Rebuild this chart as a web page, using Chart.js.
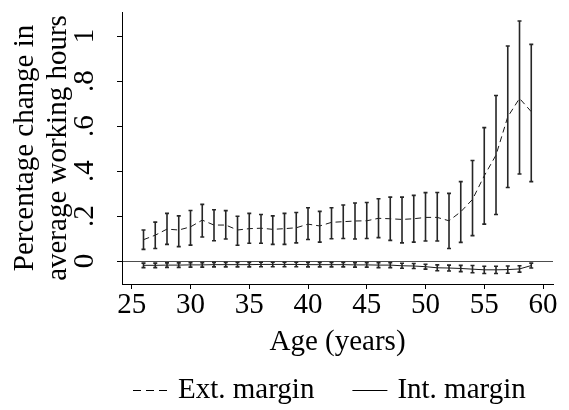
<!DOCTYPE html>
<html>
<head>
<meta charset="utf-8">
<title>Working hours by age</title>
<script src="https://cdn.jsdelivr.net/npm/chart.js@4.4.1/dist/chart.umd.min.js"></script>
<style>
  html, body { margin: 0; padding: 0; background: #fff; }
  #wrap { width: 569px; height: 410px; position: relative; }
</style>
</head>
<body>
<div id="wrap"><canvas id="myChart"></canvas></div>
<script>
// Ages on the x axis
const ages = [26, 27, 28, 29, 30, 31, 32, 33, 34, 35, 36, 37, 38, 39, 40, 41, 42,
  43, 44, 45, 46, 47, 48, 49, 50, 51, 52, 53, 54, 55, 56, 57, 58, 59];

// Extensive margin: estimate and confidence band
const extMargin = [0.095, 0.115, 0.142, 0.138, 0.152, 0.182, 0.160, 0.160, 0.138, 0.144,
  0.146, 0.141, 0.144, 0.148, 0.164, 0.156, 0.172, 0.175, 0.178, 0.179, 0.190, 0.188,
  0.185, 0.188, 0.194, 0.194, 0.179, 0.219, 0.274, 0.379, 0.471, 0.641, 0.723, 0.664];
const extLow = [0.052, 0.056, 0.074, 0.064, 0.071, 0.107, 0.090, 0.098, 0.070, 0.079,
  0.079, 0.074, 0.074, 0.081, 0.096, 0.084, 0.099, 0.100, 0.098, 0.100, 0.104, 0.092,
  0.081, 0.084, 0.089, 0.089, 0.056, 0.083, 0.113, 0.164, 0.207, 0.327, 0.387, 0.353];
const extHigh = [0.138, 0.173, 0.212, 0.201, 0.225, 0.252, 0.228, 0.224, 0.199, 0.212,
  0.207, 0.201, 0.212, 0.216, 0.237, 0.221, 0.237, 0.249, 0.258, 0.260, 0.277, 0.284,
  0.284, 0.292, 0.304, 0.305, 0.301, 0.353, 0.447, 0.593, 0.736, 0.956, 1.067, 0.963];

// Intensive margin: estimate and confidence band
const intMargin = [-0.019, -0.019, -0.018, -0.018, -0.017, -0.017, -0.016, -0.016, -0.016,
  -0.016, -0.015, -0.015, -0.015, -0.015, -0.016, -0.016, -0.016, -0.016, -0.017, -0.017,
  -0.018, -0.018, -0.021, -0.022, -0.025, -0.030, -0.031, -0.033, -0.036, -0.039, -0.039,
  -0.038, -0.035, -0.020];
const intLow = [-0.029, -0.029, -0.028, -0.028, -0.027, -0.027, -0.026, -0.026, -0.026,
  -0.026, -0.025, -0.025, -0.025, -0.025, -0.026, -0.026, -0.026, -0.026, -0.027, -0.027,
  -0.029, -0.029, -0.032, -0.033, -0.036, -0.043, -0.044, -0.047, -0.052, -0.055, -0.055,
  -0.054, -0.049, -0.031];
const intHigh = [-0.009, -0.009, -0.008, -0.008, -0.007, -0.007, -0.006, -0.006, -0.006,
  -0.006, -0.005, -0.005, -0.005, -0.005, -0.006, -0.006, -0.006, -0.006, -0.007, -0.007,
  -0.007, -0.007, -0.010, -0.011, -0.014, -0.017, -0.018, -0.019, -0.020, -0.023, -0.023,
  -0.022, -0.021, -0.009];

const seriesNames = ["Ext. margin", "Int. margin"];
const xTickValues = [25, 30, 35, 40, 45, 50, 55, 60];
const yTickValues = [0, 0.2, 0.4, 0.6, 0.8, 1];
const yTickLabels = ["0", ".2", ".4", ".6", ".8", "1"];

const FONT = "'Liberation Serif', 'Times New Roman', serif";
Chart.defaults.font.family = FONT;
Chart.defaults.font.size = 29;
Chart.defaults.color = "#000";

function toPoints(values) {
  return ages.map((a, i) => ({ x: a, y: values[i] }));
}

// Vertical error bars with small caps
const errorBars = {
  id: "errorBars",
  afterDatasetsDraw(chart) {
    const { ctx, scales: { x, y } } = chart;
    const bands = [[extLow, extHigh], [intLow, intHigh]];
    ctx.save();
    ctx.strokeStyle = "#262626";
    ctx.lineWidth = 1.6;
    bands.forEach(([lo, hi]) => {
      ages.forEach((a, i) => {
        const px = x.getPixelForValue(a);
        const yLo = y.getPixelForValue(lo[i]);
        const yHi = y.getPixelForValue(hi[i]);
        ctx.beginPath();
        ctx.moveTo(px, yLo);
        ctx.lineTo(px, yHi);
        ctx.moveTo(px - 2, yLo);
        ctx.lineTo(px + 2, yLo);
        ctx.moveTo(px - 2, yHi);
        ctx.lineTo(px + 2, yHi);
        ctx.stroke();
      });
    });
    ctx.restore();
  }
};

// Legend row under the x axis title
const bottomLegend = {
  id: "bottomLegend",
  afterDraw(chart) {
    const ctx = chart.ctx;
    const yMid = 390;
    let xPos = 133;
    ctx.save();
    ctx.font = "29px " + FONT;
    ctx.textBaseline = "middle";
    ctx.fillStyle = "#000";
    chart.data.datasets.forEach((ds) => {
      ctx.strokeStyle = "#000";
      ctx.lineWidth = 1.2;
      ctx.setLineDash(ds.borderDash ? [8, 5] : []);
      ctx.beginPath();
      ctx.moveTo(xPos, yMid + 0.5);
      ctx.lineTo(xPos + 35, yMid + 0.5);
      ctx.stroke();
      ctx.setLineDash([]);
      xPos += 45;
      ctx.fillText(ds.label, xPos, yMid);
      xPos += ctx.measureText(ds.label).width + 38;
    });
    ctx.restore();
  }
};

const ctx = document.getElementById("myChart");
const myChart = new Chart(ctx, {
  type: "line",
  data: {
    datasets: [
      {
        label: seriesNames[0],
        data: toPoints(extMargin),
        borderColor: "#1a1a1a",
        borderWidth: 1,
        borderDash: [6, 4],
        pointRadius: 0,
        tension: 0,
      },
      {
        label: seriesNames[1],
        data: toPoints(intMargin),
        borderColor: "#1a1a1a",
        borderWidth: 1,
        pointRadius: 0,
        tension: 0,
      },
    ],
  },
  options: {
    responsive: true,
    maintainAspectRatio: false,
    animation: false,
    devicePixelRatio: 1,
    layout: { padding: { left: 0, right: 16, top: 12, bottom: 51.5 } },
    plugins: {
      legend: { display: false },
      tooltip: { enabled: false },
    },
    scales: {
      x: {
        type: "linear",
        min: 24.17,
        max: 60.85,
        afterBuildTicks: (s) => { s.ticks = xTickValues.map((v) => ({ value: v })); },
        afterFit: (s) => { s.height = 74.5; s.paddingLeft = 0; s.paddingRight = 0; },
        border: { display: true, color: "#000", width: 1 },
        grid: { drawOnChartArea: false, drawTicks: true, tickLength: 5, tickColor: "#000" },
        ticks: { autoSkip: false, maxRotation: 0, minRotation: 0, padding: 0,
          font: { size: 29, lineHeight: 1.1 } },
        title: { display: true, text: "Age (years)",
          font: { size: 29, lineHeight: 1.14 }, padding: { top: 0, bottom: 0 } },
      },
      y: {
        type: "linear",
        min: -0.102,
        max: 1.107,
        afterBuildTicks: (s) => { s.ticks = yTickValues.map((v) => ({ value: v })); },
        afterFit: (s) => { s.width = 122; s.paddingTop = 0; s.paddingBottom = 0; },
        border: { display: true, color: "#000", width: 1 },
        grid: {
          drawOnChartArea: true,
          color: (c) => (c.tick && c.tick.value === 0 ? "#4d4d4d" : "rgba(0,0,0,0)"),
          drawTicks: true,
          tickLength: 5,
          tickColor: "#000",
        },
        ticks: {
          autoSkip: false,
          minRotation: 90,
          maxRotation: 90,
          crossAlign: "center",
          padding: 21,
          callback: (v, i) => yTickLabels[i],
        },
        title: { display: true, text: ["Percentage change in", "average working hours"],
          font: { size: 29, lineHeight: 1.14 }, padding: { top: 9, bottom: 0 } },
      },
    },
  },
  plugins: [errorBars, bottomLegend],
});
</script>
</body>
</html>
